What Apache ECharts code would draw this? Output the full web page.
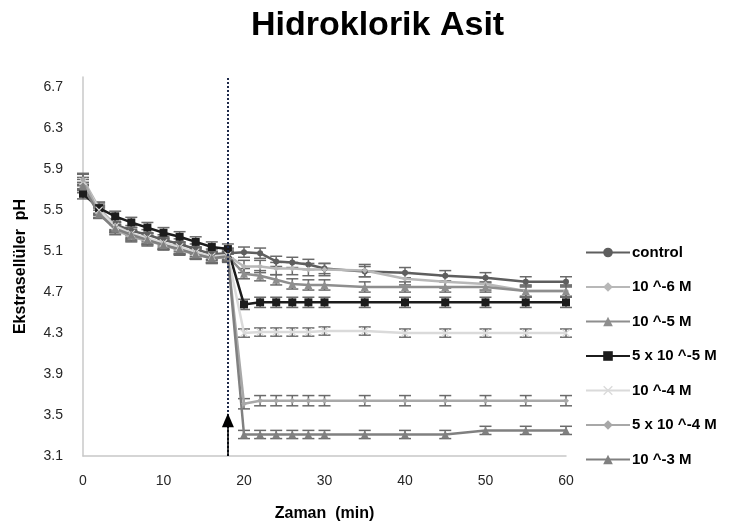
<!DOCTYPE html>
<html>
<head>
<meta charset="utf-8">
<script src="https://cdn.jsdelivr.net/npm/echarts@6/dist/echarts.min.js"></script>
<style>
  html, body { margin: 0; padding: 0; background: #fff; }
  #chart { width: 730px; height: 527px; }
</style>
</head>
<body>
<div id="chart"></div>
<script>
// zaman noktalari (dk)
const times = [0, 2, 4, 6, 8, 10, 12, 14, 16, 18, 20, 22, 24, 26, 28, 30, 35, 40, 45, 50, 55, 60];
const seriesNames = ['control', '10 ^-6 M', '10 ^-5 M', '5 x 10 ^-5 M', '10 ^-4 M', '5 x 10 ^-4 M', '10 ^-3 M'];

// pH degerleri
const control = [5.72, 5.50, 5.36, 5.30, 5.26, 5.21, 5.17, 5.12, 5.07, 5.08, 5.09, 5.08, 5.00, 4.99, 4.97, 4.93, 4.90, 4.89, 4.86, 4.84, 4.80, 4.80];
const m1e6 = [5.80, 5.52, 5.35, 5.27, 5.22, 5.18, 5.13, 5.08, 5.04, 5.06, 4.95, 4.95, 4.93, 4.93, 4.92, 4.92, 4.91, 4.83, 4.80, 4.78, 4.71, 4.71];
const m1e5 = [5.75, 5.48, 5.33, 5.25, 5.22, 5.17, 5.12, 5.08, 5.04, 5.05, 4.88, 4.86, 4.82, 4.78, 4.77, 4.77, 4.75, 4.75, 4.75, 4.75, 4.71, 4.71];
const m5e5 = [5.66, 5.52, 5.44, 5.38, 5.33, 5.28, 5.24, 5.19, 5.14, 5.12, 4.58, 4.60, 4.60, 4.60, 4.60, 4.60, 4.60, 4.60, 4.60, 4.60, 4.60, 4.60];
const m1e4 = [5.78, 5.50, 5.34, 5.27, 5.23, 5.18, 5.14, 5.09, 5.05, 5.06, 4.30, 4.31, 4.31, 4.31, 4.31, 4.32, 4.32, 4.30, 4.30, 4.30, 4.30, 4.30];
const m5e4 = [5.80, 5.47, 5.31, 5.24, 5.20, 5.16, 5.11, 5.07, 5.03, 5.04, 3.61, 3.64, 3.64, 3.64, 3.64, 3.64, 3.64, 3.64, 3.64, 3.64, 3.64, 3.64];
const m1e3 = [5.73, 5.46, 5.32, 5.26, 5.21, 5.16, 5.12, 5.07, 5.03, 5.05, 3.31, 3.31, 3.31, 3.31, 3.31, 3.31, 3.31, 3.31, 3.31, 3.35, 3.35, 3.35];

// hata cubugu (+/-) her seri icin
const errors = [0.05, 0.06, 0.05, 0.05, 0.04, 0.05, 0.04];

// HCl ekleme zamani
const additionTime = 18;
const arrowTop = 3.45;

const allValues = [control, m1e6, m1e5, m5e5, m1e4, m5e4, m1e3];
const colors = ['#5e5e5e', '#b8b8b8', '#8e8e8e', '#1c1c1c', '#dadada', '#a8a8a8', '#808080'];
const symbols = ['circle', 'diamond', 'triangle', 'rect',
  'path://M0,1L1,0L5,4L9,0L10,1L6,5L10,9L9,10L5,6L1,10L0,9L4,5Z', 'diamond', 'triangle'];
const symbolSizes = [6, 6, 8, 8, 8, 6, 8];

const chart = echarts.init(document.getElementById('chart'));

const lineSeries = seriesNames.map((name, i) => ({
  name: name,
  type: 'line',
  data: times.map((t, j) => [t, allValues[i][j]]),
  symbol: symbols[i],
  symbolSize: symbolSizes[i],
  showSymbol: true,
  color: colors[i],
  lineStyle: { width: 2.5, color: colors[i] },
  itemStyle: { color: colors[i] },
  z: 3
}));

const errorSeries = seriesNames.map((name, i) => ({
  type: 'custom',
  data: times.map((t, j) => [t, allValues[i][j] - errors[i], allValues[i][j] + errors[i]]),
  encode: { x: 0, y: [1, 2] },
  silent: true,
  z: 2,
  renderItem: (params, api) => {
    const lo = api.coord([api.value(0), api.value(1)]);
    const hi = api.coord([api.value(0), api.value(2)]);
    const w = 6;
    const style = { stroke: '#6a6a6a', lineWidth: 1.5 };
    return {
      type: 'group',
      children: [
        { type: 'line', shape: { x1: lo[0], y1: lo[1], x2: hi[0], y2: hi[1] }, style: style },
        { type: 'line', shape: { x1: lo[0] - w, y1: lo[1], x2: lo[0] + w, y2: lo[1] }, style: style },
        { type: 'line', shape: { x1: hi[0] - w, y1: hi[1], x2: hi[0] + w, y2: hi[1] }, style: style }
      ]
    };
  }
}));

// ekleme zamani: noktali cizgi + ok
lineSeries[0].markLine = {
  silent: true,
  symbol: 'none',
  label: { show: false },
  data: [
    { xAxis: additionTime, lineStyle: { type: 'dotted', color: '#1f2a4a', width: 2 } },
    [
      { coord: [additionTime, 3.1], symbol: 'none' },
      { coord: [additionTime, arrowTop], symbol: 'triangle', symbolSize: [12, 14], lineStyle: { color: '#000', width: 1.5, type: 'solid' } }
    ]
  ]
};

chart.setOption({
  animation: false,
  title: {
    text: 'Hidroklorik Asit',
    left: 246,
    top: 4,
    textStyle: { fontFamily: 'Liberation Sans', fontSize: 34, fontWeight: 'bold', color: '#000' }
  },
  legend: {
    data: seriesNames,
    orient: 'vertical',
    left: 580,
    top: 240,
    itemWidth: 44,
    itemHeight: 12,
    itemGap: 19.5,
    textStyle: { fontFamily: 'Liberation Sans', fontSize: 15, fontWeight: 'bold', color: '#000', padding: [0, 0, 0, -3] }
  },
  grid: { left: 83, right: 164, top: 77, bottom: 70 },
  xAxis: {
    type: 'value',
    min: 0,
    max: 60,
    interval: 10,
    name: 'Zaman  (min)',
    nameLocation: 'middle',
    nameGap: 50,
    nameTextStyle: { fontFamily: 'Liberation Sans', fontSize: 16, fontWeight: 'bold', color: '#000' },
    axisLine: { lineStyle: { color: '#c8c8c8', width: 1.5 } },
    axisTick: { show: false },
    splitLine: { show: false },
    axisLabel: { fontFamily: 'Liberation Sans', fontSize: 14, color: '#262626', margin: 18 }
  },
  yAxis: {
    type: 'value',
    min: 3.1,
    max: 6.8,
    interval: 0.4,
    name: 'Ekstrasellüler  pH',
    nameLocation: 'middle',
    nameRotate: 90,
    nameGap: 54,
    nameTextStyle: { fontFamily: 'Liberation Sans', fontSize: 16, fontWeight: 'bold', color: '#000' },
    axisLine: { show: true, lineStyle: { color: '#c8c8c8', width: 1.5 } },
    axisTick: { show: false },
    splitLine: { show: false },
    axisLabel: {
      fontFamily: 'Liberation Sans', fontSize: 14, color: '#262626', margin: 20,
      showMaxLabel: false,
      formatter: (v) => v.toFixed(1)
    }
  },
  series: [...errorSeries, ...lineSeries]
});
</script>
</body>
</html>
